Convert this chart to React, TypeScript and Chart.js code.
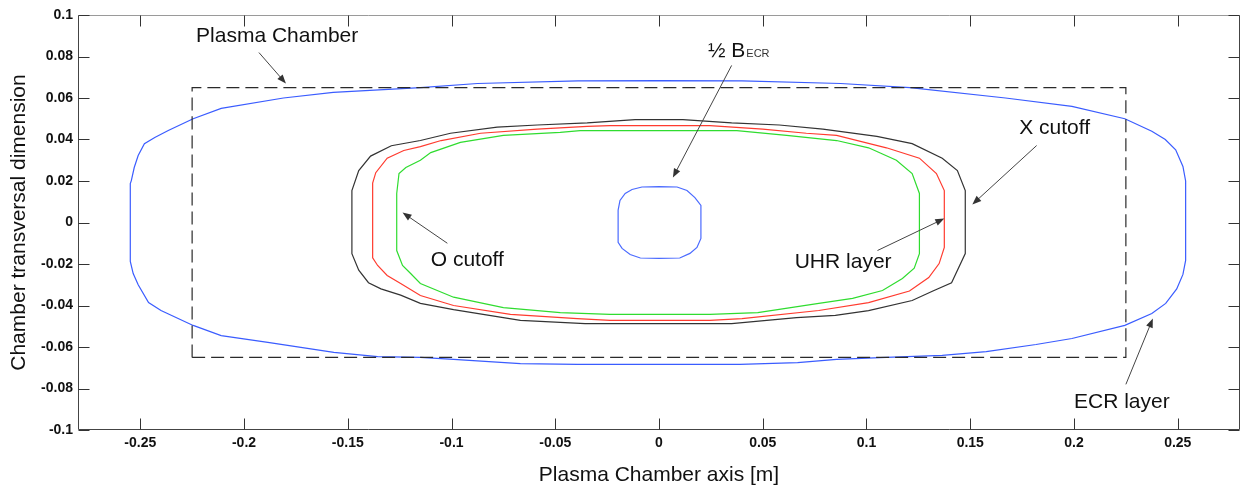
import React, { useEffect, useRef } from "react";
import { Chart, registerables } from "chart.js";

Chart.register(...registerables);

// ---- axis ticks ----
const X_TICKS = [-0.25, -0.2, -0.15, -0.1, -0.05, 0, 0.05, 0.1, 0.15, 0.2, 0.25];
const X_TICK_LABELS = ["-0.25", "-0.2", "-0.15", "-0.1", "-0.05", "0", "0.05", "0.1", "0.15", "0.2", "0.25"];
const Y_TICKS = [-0.1, -0.08, -0.06, -0.04, -0.02, 0, 0.02, 0.04, 0.06, 0.08, 0.1];
const Y_TICK_LABELS = ["-0.1", "-0.08", "-0.06", "-0.04", "-0.02", "0", "0.02", "0.04", "0.06", "0.08", "0.1"];

// ---- plasma chamber (dashed rectangle) ----
const CHAMBER_X = [-0.225, -0.225, 0.225, 0.225, -0.225];
const CHAMBER_Y = [-0.065, 0.065, 0.065, -0.065, -0.065];

// ---- ECR layer (outer blue) ----
const ECR_X = [0, -0.039, -0.0875, -0.115, -0.157, -0.181, -0.211, -0.2245, -0.2365, -0.243, -0.248, -0.251, -0.2529, -0.2543, -0.2548, -0.2548,
  -0.2534, -0.251, -0.246, -0.24, -0.2245, -0.211, -0.1885, -0.1726, -0.1567, -0.1356, -0.115, -0.099, -0.0668, -0.0394, 0,
  0.039, 0.0668, 0.0856, 0.1096, 0.1365, 0.1577, 0.1817, 0.199, 0.2245, 0.2375, 0.2442, 0.2495, 0.2525, 0.2538, 0.2538,
  0.2525, 0.249, 0.244, 0.2375, 0.2245, 0.199, 0.167, 0.121, 0.0875, 0.04, 0];
const ECR_Y = [0.0684, 0.0683, 0.067, 0.065, 0.0627, 0.06, 0.055, 0.05, 0.0443, 0.041, 0.038, 0.0323, 0.0265, 0.0202, 0.0188, -0.0188,
  -0.0246, -0.03, -0.0386, -0.0424, -0.0496, -0.0545, -0.0578, -0.0602, -0.0626, -0.0646, -0.065, -0.066, -0.068, -0.0684, -0.0684,
  -0.0684, -0.0675, -0.066, -0.065, -0.064, -0.0622, -0.0588, -0.0559, -0.0496, -0.0439, -0.039, -0.032, -0.025, -0.0183, 0.02,
  0.027, 0.035, 0.04, 0.044, 0.05, 0.056, 0.06, 0.065, 0.067, 0.0683, 0.0684];

// ---- X cutoff (black) ----
const XCUT_X = [0, -0.0115, -0.0346, -0.0587, -0.078, -0.1005, -0.115, -0.129, -0.139, -0.1447, -0.148, -0.148,
  -0.1447, -0.14, -0.134, -0.1245, -0.115, -0.099, -0.0668, -0.0356, 0, 0.035, 0.0663, 0.085, 0.101, 0.122, 0.132,
  0.141, 0.1476, 0.1476, 0.1438, 0.1365, 0.122, 0.105, 0.079, 0.058, 0.035, 0.0115, 0];
const XCUT_Y = [0.0496, 0.0496, 0.048, 0.047, 0.046, 0.043, 0.0395, 0.037, 0.032, 0.025, 0.0154, -0.015,
  -0.023, -0.029, -0.032, -0.035, -0.039, -0.042, -0.0472, -0.0487, -0.0487, -0.0487, -0.0458, -0.0448, -0.0425, -0.0376, -0.033,
  -0.029, -0.015, 0.0154, 0.025, 0.031, 0.038, 0.0415, 0.045, 0.047, 0.048, 0.0496, 0.0496];

// ---- UHR layer (red) ----
const UHR_X = [0, -0.0236, -0.0346, -0.0587, -0.086, -0.105, -0.115, -0.123, -0.131, -0.1365, -0.138, -0.138,
  -0.1356, -0.131, -0.1245, -0.115, -0.099, -0.0716, -0.0394, -0.0236, 0, 0.0245, 0.04, 0.077, 0.101, 0.1207, 0.13,
  0.135, 0.1375, 0.1375, 0.1337, 0.1255, 0.1096, 0.0856, 0.071, 0.05, 0.0245, 0];
const UHR_Y = [0.0467, 0.0467, 0.0463, 0.045, 0.043, 0.0395, 0.0366, 0.0347, 0.031, 0.024, 0.019, -0.017,
  -0.0207, -0.0255, -0.0294, -0.0352, -0.04, -0.0443, -0.0463, -0.0472, -0.0472, -0.0472, -0.0463, -0.0424, -0.0386, -0.033, -0.0265,
  -0.0198, -0.012, 0.0154, 0.0236, 0.031, 0.036, 0.042, 0.043, 0.045, 0.0467, 0.0467];

// ---- O cutoff (green) ----
const OCUT_X = [0, -0.038, -0.0476, -0.075, -0.0957, -0.11, -0.115, -0.122, -0.1253, -0.1264, -0.1264,
  -0.1236, -0.1197, -0.115, -0.099, -0.075, -0.0476, -0.0236, 0, 0.0245, 0.0476, 0.077, 0.0933, 0.1077, 0.1173,
  0.123, 0.1255, 0.1255, 0.122, 0.1144, 0.101, 0.0856, 0.0615, 0.0375, 0];
const OCUT_Y = [0.0443, 0.0443, 0.0434, 0.042, 0.0386, 0.0337, 0.03, 0.0265, 0.0236, 0.014, -0.0135,
  -0.0207, -0.0246, -0.0294, -0.036, -0.041, -0.0434, -0.0443, -0.0443, -0.0443, -0.0434, -0.039, -0.0366, -0.0328, -0.027,
  -0.022, -0.015, 0.014, 0.0236, 0.03, 0.036, 0.0395, 0.042, 0.0443, 0.0443];

// ---- 1/2 B_ECR (small blue) ----
const HALF_X = [0, -0.0082, -0.013, -0.0163, -0.0188, -0.0197, -0.0197, -0.0178, -0.0139, -0.009, 0,
  0.01, 0.0149, 0.0183, 0.0202, 0.0202, 0.0173, 0.0135, 0.0087, 0];
const HALF_Y = [0.0173, 0.0171, 0.0159, 0.014, 0.0106, 0.006, -0.0096, -0.0125, -0.0154, -0.0171, -0.0173,
  -0.0171, -0.0149, -0.012, -0.0077, 0.0082, 0.012, 0.0154, 0.0171, 0.0173];

// ---- annotations: label, text anchor (data), arrow start, arrow end ----
const NOTE_TEXT = ["Plasma Chamber", "X cutoff", "ECR layer", "O cutoff", "UHR layer"];
const NOTE_TX = [-0.2231, 0.1736, 0.2, -0.11, 0.0654];
const NOTE_TY = [0.0896, 0.0453, -0.0867, -0.0183, -0.0193];
const NOTE_AX1 = [-0.1928, 0.182, 0.225, -0.102, 0.1053];
const NOTE_AY1 = [0.0819, 0.0371, -0.078, -0.01, -0.0135];
const NOTE_AX2 = [-0.1798, 0.151, 0.238, -0.1236, 0.1375];
const NOTE_AY2 = [0.067, 0.0087, -0.0463, 0.0048, 0.0019];
// 1/2 B_ECR label
const BECR_POS = [0.0236, 0.0829];
const BECR_ARROW = [0.035, 0.0757, 0.0067, 0.0217];

const FONT = "'Liberation Sans', Arial, Helvetica, sans-serif";

function pts(xs: number[], ys: number[]) {
  return xs.map((x, i) => ({ x, y: ys[i] }));
}

function drawArrow(ctx: CanvasRenderingContext2D, x1: number, y1: number, x2: number, y2: number) {
  const ang = Math.atan2(y2 - y1, x2 - x1);
  const hl = 9, hw = 3.5;
  ctx.beginPath();
  ctx.moveTo(x1, y1);
  ctx.lineTo(x2 - Math.cos(ang) * hl * 0.8, y2 - Math.sin(ang) * hl * 0.8);
  ctx.stroke();
  ctx.beginPath();
  ctx.moveTo(x2, y2);
  ctx.lineTo(x2 - Math.cos(ang) * hl - Math.sin(ang) * hw, y2 - Math.sin(ang) * hl + Math.cos(ang) * hw);
  ctx.lineTo(x2 - Math.cos(ang) * hl + Math.sin(ang) * hw, y2 - Math.sin(ang) * hl - Math.cos(ang) * hw);
  ctx.closePath();
  ctx.fill();
}

const framePlugin = {
  id: "framePlugin",
  afterDraw(chart: any) {
    const { ctx, chartArea } = chart;
    const xs = chart.scales.x;
    const ys = chart.scales.y;
    const L = Math.round(chartArea.left) + 0.5;
    const R = Math.round(chartArea.right) - 0.5;
    const T = Math.round(chartArea.top) + 0.5;
    const B = Math.round(chartArea.bottom) - 0.5;
    ctx.save();
    ctx.lineWidth = 1;
    // frame
    ctx.strokeStyle = "#9a9a9a";
    ctx.beginPath();
    ctx.moveTo(L, T);
    ctx.lineTo(R, T);
    ctx.stroke();
    ctx.strokeStyle = "#444";
    ctx.beginPath();
    ctx.moveTo(R, T);
    ctx.lineTo(R, B);
    ctx.lineTo(L, B);
    ctx.lineTo(L, T);
    ctx.stroke();
    // inward ticks
    const tl = 11;
    ctx.strokeStyle = "#333";
    ctx.beginPath();
    X_TICKS.forEach((v) => {
      const px = Math.round(xs.getPixelForValue(v)) + 0.5;
      ctx.moveTo(px, B);
      ctx.lineTo(px, B - tl);
      ctx.moveTo(px, T);
      ctx.lineTo(px, T + tl);
    });
    Y_TICKS.forEach((v) => {
      const py = Math.round(ys.getPixelForValue(v)) + 0.5;
      ctx.moveTo(L, py);
      ctx.lineTo(L + tl, py);
      ctx.moveTo(R, py);
      ctx.lineTo(R - tl, py);
    });
    ctx.stroke();

    // annotations
    ctx.fillStyle = "#111";
    ctx.strokeStyle = "#444";
    ctx.textBaseline = "middle";
    ctx.textAlign = "left";
    ctx.font = `21px ${FONT}`;
    NOTE_TEXT.forEach((t, i) => {
      ctx.fillText(t, xs.getPixelForValue(NOTE_TX[i]), ys.getPixelForValue(NOTE_TY[i]));
    });
    ctx.fillStyle = "#333";
    NOTE_TEXT.forEach((_, i) => {
      drawArrow(
        ctx,
        xs.getPixelForValue(NOTE_AX1[i]),
        ys.getPixelForValue(NOTE_AY1[i]),
        xs.getPixelForValue(NOTE_AX2[i]),
        ys.getPixelForValue(NOTE_AY2[i])
      );
    });
    // 1/2 B_ECR
    const bx = xs.getPixelForValue(BECR_POS[0]);
    const by = ys.getPixelForValue(BECR_POS[1]);
    ctx.fillStyle = "#111";
    ctx.textBaseline = "alphabetic";
    ctx.font = `21px ${FONT}`;
    const main = "\u00BD B";
    ctx.fillText(main, bx, by + 7);
    const w = ctx.measureText(main).width;
    ctx.font = `11px ${FONT}`;
    ctx.fillStyle = "#333";
    ctx.fillText("ECR", bx + w + 1, by + 7);
    ctx.fillStyle = "#333";
    drawArrow(
      ctx,
      xs.getPixelForValue(BECR_ARROW[0]),
      ys.getPixelForValue(BECR_ARROW[1]),
      xs.getPixelForValue(BECR_ARROW[2]),
      ys.getPixelForValue(BECR_ARROW[3])
    );
    ctx.restore();
  },
};

function lineDs(label: string, xs: number[], ys: number[], color: string, extra: any = {}) {
  return {
    label,
    data: pts(xs, ys),
    showLine: true,
    borderColor: color,
    backgroundColor: color,
    borderWidth: 1.2,
    pointRadius: 0,
    pointHoverRadius: 0,
    tension: 0,
    fill: false,
    ...extra,
  };
}

export default function App() {
  const ref = useRef<HTMLCanvasElement | null>(null);
  useEffect(() => {
    if (!ref.current) return;
    const chart = new Chart(ref.current, {
      type: "scatter",
      data: {
        datasets: [
          lineDs("Plasma Chamber", CHAMBER_X, CHAMBER_Y, "#2a2a2a", { borderDash: [13, 6], borderWidth: 1.2 }),
          lineDs("ECR layer", ECR_X, ECR_Y, "#3a5cff"),
          lineDs("X cutoff", XCUT_X, XCUT_Y, "#333333"),
          lineDs("UHR layer", UHR_X, UHR_Y, "#ff3b2f"),
          lineDs("O cutoff", OCUT_X, OCUT_Y, "#2fdc2f"),
          lineDs("1/2 B_ECR", HALF_X, HALF_Y, "#4a6aff"),
        ],
      },
      options: {
        animation: false,
        responsive: false,
        maintainAspectRatio: false,
        events: [],
        layout: { padding: { top: 15, right: 5, left: 0, bottom: 0 } },
        plugins: {
          legend: { display: false },
          tooltip: { enabled: false },
        },
        scales: {
          x: {
            type: "linear",
            min: -0.28,
            max: 0.28,
            grid: { display: false, drawTicks: false },
            border: { display: false },
            afterBuildTicks: (scale: any) => {
              scale.ticks = X_TICKS.map((v) => ({ value: v }));
            },
            afterFit: (scale: any) => {
              scale.height = 60;
            },
            ticks: {
              padding: 5,
              color: "#111",
              font: { family: FONT, size: 14, weight: "bold" },
              maxRotation: 0,
              autoSkip: false,
              callback: (v: any) => {
                const i = X_TICKS.findIndex((t) => Math.abs(t - Number(v)) < 1e-9);
                return i >= 0 ? X_TICK_LABELS[i] : "";
              },
            },
            title: {
              display: true,
              text: "Plasma Chamber axis [m]",
              color: "#111",
              font: { family: FONT, size: 21 },
              padding: { top: 0, bottom: 2 },
            },
          },
          y: {
            type: "linear",
            min: -0.1,
            max: 0.1,
            grid: { display: false, drawTicks: false },
            border: { display: false },
            afterBuildTicks: (scale: any) => {
              scale.ticks = Y_TICKS.map((v) => ({ value: v }));
            },
            afterFit: (scale: any) => {
              scale.width = 78;
            },
            ticks: {
              padding: 5,
              color: "#111",
              font: { family: FONT, size: 14, weight: "bold" },
              autoSkip: false,
              callback: (v: any) => {
                const i = Y_TICKS.findIndex((t) => Math.abs(t - Number(v)) < 1e-9);
                return i >= 0 ? Y_TICK_LABELS[i] : "";
              },
            },
            title: {
              display: true,
              text: "Chamber transversal dimension",
              color: "#111",
              font: { family: FONT, size: 21 },
              padding: { top: 7, bottom: 0 },
            },
          },
        },
      },
      plugins: [framePlugin],
    } as any);
    return () => chart.destroy();
  }, []);

  return (
    <div style={{ position: "fixed", left: 0, top: 0, width: 1245, height: 490, background: "#fff" }}>
      <canvas ref={ref} width={1245} height={490} style={{ display: "block", width: 1245, height: 490 }} />
    </div>
  );
}
